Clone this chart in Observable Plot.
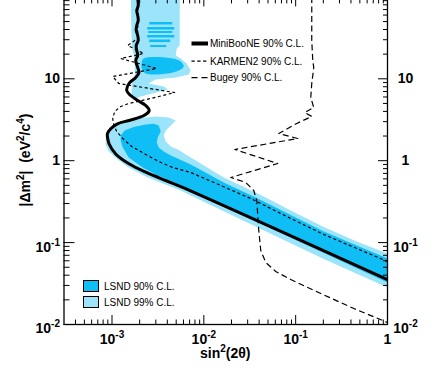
<!DOCTYPE html>
<html><head><meta charset="utf-8">
<script src="https://cdn.jsdelivr.net/npm/d3@7"></script>
<script src="https://cdn.jsdelivr.net/npm/@observablehq/plot@0.6"></script>
<style>
html,body{margin:0;padding:0;background:#fff;}
#chart{position:relative;width:435px;height:371px;overflow:hidden;}
svg{display:block;}
</style></head><body><div id="chart"></div>
<script>
// ---- data: [sin^2(2theta), dm^2] ----
const miniboone = [[1.89e-3,100],[1.929e-3,78.5],[1.858e-3,68.3],[1.905e-3,59.3],[1.929e-3,51.5],[1.858e-3,44.8],[1.835e-3,38.9],[1.905e-3,33.8],[1.929e-3,29.35],[1.835e-3,25.5],[1.858e-3,22.16],[1.905e-3,19.25],[1.812e-3,16.73],[1.905e-3,13.74],[1.967e-3,11.94],[1.812e-3,10.37],[1.531e-3,8.76],[1.446e-3,7.2],[1.599e-3,6.25],[1.905e-3,5.43],[2.328e-3,4.72],[2.54e-3,4.1],[2.23e-3,3.56],[1.531e-3,3.1],[1.145e-3,2.82],[9.68e-4,2.45],[8.91e-4,2.13],[8.98e-4,1.87],[9.28e-4,1.61],[1.097e-3,1.21],[1.531e-3,0.917],[2.328e-3,0.724],[3.846e-3,0.573],[5.6e-3,0.484],[1.0,0.0354]];
const karmen2 = [[1.905e-3,100],[1.905e-3,31.06],[1.483e-3,25.5],[2.214e-3,20.37],[1.244e-3,17.7],[3.068e-3,13.36],[1.018e-3,10.67],[1.183e-3,8.76],[4.819e-3,6.8],[2.64e-3,5.75],[1.905e-3,5.28],[1.52e-3,4.99],[1.244e-3,4.59],[1.07e-3,3.99],[1.018e-3,3.275],[1.043e-3,2.767],[1.125e-3,2.273],[1.308e-3,1.867],[1.639e-3,1.491],[2.328e-3,1.19],[3.226e-3,0.978],[4.583e-3,0.826],[7.2e-3,0.718],[3.243e-2,0.3455],[8.84e-2,0.197],[0.2023,0.1256],[1.0,0.0588]];
const bugey = [[0.1497,100],[0.1497,29.35],[0.1535,16.73],[0.1574,13.74],[0.1497,8.76],[0.146,5.91],[0.1574,4.46],[0.1256,3.88],[0.1497,3.47],[0.1028,2.85],[6.545e-2,2.148],[0.1054,1.867],[2.171e-2,1.37],[6.38e-2,0.924],[1.964e-2,0.624],[2.861e-2,0.542],[3.496e-2,0.433],[3.77e-2,0.327],[3.866e-2,0.214],[3.963e-2,0.1405],[4.168e-2,0.0801],[4.722e-2,0.0572],[6.07e-2,0.0444],[8.84e-2,0.0354],[0.1877,0.0239],[0.4294,0.01568],[1.0,0.01058]];
const lsnd99Top = [[1.599e-3,100],[5.46e-3,100],[5.46e-3,25.5],[5.07e-3,23.4],[4.94e-3,19.25],[5.6e-3,17.7],[6.51e-3,15.38],[7.2e-3,12.63],[6.85e-3,11.29],[4.94e-3,10.37],[2.99e-3,9.81],[2.51e-3,8.76],[3.657e-3,8.05],[4.04e-3,7.4],[2.054e-3,6.08],[1.723e-3,5.59],[1.639e-3,6.25],[1.639e-3,8.52],[1.768e-3,10.67],[1.768e-3,16.73],[1.639e-3,25.5]];
const lsnd99Main = [[1.043e-3,2.616],[1.244e-3,3.01],[1.812e-3,3.275],[2.992e-3,3.465],[4.146e-3,3.369],[4.94e-3,3.096],[4.358e-3,2.69],[3.846e-3,2.337],[3.657e-3,2.031],[3.846e-3,1.716],[4.358e-3,1.491],[5.194e-3,1.37],[7.2e-3,1.094],[1.647e-2,0.6236],[3.866e-2,0.3977],[8.84e-2,0.2465],[0.2023,0.155],[0.4747,0.1017],[1.0,0.0736],[1.0,0.02829],[0.2023,0.0631],[3.866e-2,0.1529],[7.2e-3,0.3759],[5.6e-3,0.4326],[3.566e-3,0.5268],[2.328e-3,0.6414],[1.52e-3,0.8258],[1.153e-3,1.034],[9.21e-4,1.295],[8.54e-4,1.577],[8.54e-4,1.92],[9.21e-4,2.337]];
const lsnd90Island = [[2.106e-3,15.81],[2.214e-3,17.7],[4.583e-3,17.7],[5.6e-3,16.26],[6.04e-3,14.13],[5.326e-3,12.63],[4.04e-3,11.61],[2.328e-3,11.61],[2.106e-3,13.36]];
const lsnd90Main = [[1.244e-3,2.031],[1.375e-3,2.337],[1.723e-3,2.579],[2.328e-3,2.767],[2.845e-3,2.822],[3.226e-3,2.69],[3.392e-3,2.273],[3.145e-3,1.92],[3.068e-3,1.669],[3.226e-3,1.449],[3.657e-3,1.295],[4.358e-3,1.157],[5.326e-3,1.049],[7.2e-3,0.8987],[1.647e-2,0.5418],[3.866e-2,0.3455],[8.84e-2,0.2173],[0.2023,0.1366],[1.0,0.06394],[1.0,0.03257],[0.2023,0.0746],[3.866e-2,0.1759],[7.2e-3,0.4326],[4.583e-3,0.557],[3.145e-3,0.6598],[2.159e-3,0.8258],[1.52e-3,1.094],[1.308e-3,1.449],[1.244e-3,1.765]];
const lsnd90Stripes = [
  {x1:2.574e-3,x2:4.583e-3,y1:45.4,y2:48.7},
  {x1:2.448e-3,x2:4.819e-3,y1:39.4,y2:42.3},
  {x1:2.51e-3,x2:4.583e-3,y1:35.7,y2:37.8},
  {x1:2.448e-3,x2:4.819e-3,y1:31.5,y2:33.8},
  {x1:2.574e-3,x2:4.358e-3,y1:27.7,y2:29.8},
  {x1:2.64e-3,x2:3.944e-3,y1:24.1,y2:25.5}];

const xMajor = [1e-3,1e-2,1e-1,1];
const xMinor = [4e-4,5e-4,6e-4,7e-4,8e-4,9e-4,2e-3,3e-3,4e-3,5e-3,6e-3,7e-3,8e-3,9e-3,2e-2,3e-2,4e-2,5e-2,6e-2,7e-2,8e-2,9e-2,0.2,0.3,0.4,0.5,0.6,0.7,0.8,0.9];
const xTickLabels = ["10^-3","10^-2","10^-1","1"];
const yMajor = [0.01,0.1,1,10,100];
const yMinor = [0.02,0.03,0.04,0.05,0.06,0.07,0.08,0.09,0.2,0.3,0.4,0.5,0.6,0.7,0.8,0.9,2,3,4,5,6,7,8,9,20,30,40,50,60,70,80,90];
const yLabelTicks = [0.01,0.1,1,10];
const yTickLabels = ["10^-2","10^-1","1","10"];
const legendTop = ["MiniBooNE 90% C.L.","KARMEN2 90% C.L.","Bugey 90% C.L."];
const legendBottom = ["LSND 90% C.L.","LSND 99% C.L."];

const C90 = "#0fbef5", C99 = "#9be4fa";
const xl = new Map(xMajor.map((v,i)=>[v,xTickLabels[i]]));
const yl = new Map(yLabelTicks.map((v,i)=>[v,yTickLabels[i]]));
const P = d => d[0], Q = d => d[1];
const blank = () => "";

const svg = Plot.plot({
  width: 435, height: 371,
  marginLeft: 63.5, marginRight: 48, marginTop: -3.6, marginBottom: 47,
  x: {type: "log", domain: [3e-4, 1]},
  y: {type: "log", domain: [0.01, 100]},
  style: {fontFamily: "'Liberation Sans', Arial, sans-serif", fontSize: "14px", fontWeight: "bold", background: "#fff", color: "#000"},
  marks: [
    Plot.line(lsnd99Top, {x: P, y: Q, fill: C99, stroke: "none", curve: "linear-closed", clip: true}),
    Plot.line(lsnd99Main, {x: P, y: Q, fill: C99, stroke: "none", curve: "linear-closed", clip: true}),
    Plot.line(lsnd90Island, {x: P, y: Q, fill: C90, stroke: "none", curve: "catmull-rom-closed", clip: true}),
    Plot.line(lsnd90Main, {x: P, y: Q, fill: C90, stroke: "none", curve: "linear-closed", clip: true}),
    Plot.rect(lsnd90Stripes, {x1: "x1", x2: "x2", y1: "y1", y2: "y2", fill: C90}),
    Plot.line(karmen2, {x: P, y: Q, stroke: "#000", strokeWidth: 1.2, strokeDasharray: "3,2.6", strokeLinecap: "butt", clip: true}),
    Plot.line(bugey, {x: P, y: Q, stroke: "#000", strokeWidth: 1.2, strokeDasharray: "6,3.5", strokeLinecap: "butt", clip: true}),
    Plot.line(miniboone, {x: P, y: Q, stroke: "#000", strokeWidth: 3, curve: "catmull-rom", clip: true}),
    Plot.frame({stroke: "#000", strokeWidth: 1.3}),
    Plot.axisY(yMajor, {anchor: "left", tickSize: 11, dx: 11, tickFormat: blank, label: null}),
    Plot.axisY(yMinor, {anchor: "left", tickSize: 6, dx: 6, tickFormat: blank, label: null}),
    Plot.axisY(yMajor, {anchor: "right", tickSize: 10, dx: -10, tickFormat: blank, label: null}),
    Plot.axisY(yMinor, {anchor: "right", tickSize: 5, dx: -5, tickFormat: blank, label: null}),
    Plot.axisX(xMajor, {anchor: "bottom", tickSize: 9, dy: -9, tickFormat: blank, label: null}),
    Plot.axisX(xMinor, {anchor: "bottom", tickSize: 4.5, dy: -4.5, tickFormat: blank, label: null}),
    Plot.axisX(xMajor, {anchor: "top", tickSize: 9, dy: 9, tickFormat: blank, label: null}),
    Plot.axisX(xMinor, {anchor: "top", tickSize: 6, dy: 6, tickFormat: blank, label: null}),
    Plot.axisY(yLabelTicks, {anchor: "left", tickSize: 0, tickPadding: 4, tickFormat: d => yl.get(d), label: null}),
    Plot.axisY(yLabelTicks, {anchor: "right", tickSize: 0, tickPadding: 18, textAnchor: "middle", tickFormat: d => yl.get(d), label: null}),
    Plot.axisX(xMajor, {anchor: "bottom", tickSize: 0, tickPadding: 10, tickFormat: d => xl.get(d), label: null})
  ]
});

const S = d3.select(svg);
S.selectAll("text").each(function() {
  const t = this.textContent;
  if (!t.includes("^")) return;
  const [b, e] = t.split("^");
  const g = this.closest("g");
  const isY = g && (g.getAttribute("aria-label") || "").includes("y-axis");
  const el = d3.select(this);
  el.text(null);
  el.append("tspan").text(b);
  el.append("tspan").attr("dy", -6).attr("font-size", "10px").text(e);
  if (isY) el.attr("transform", (el.attr("transform") || "") + " translate(0,4.5)");
});

// axis titles
const xt = S.append("text").attr("x", 225.3).attr("y", 358).attr("text-anchor", "middle")
  .attr("font-size", 14).attr("font-weight", "bold");
xt.append("tspan").text("sin");
xt.append("tspan").attr("dy", -6).attr("font-size", "10px").text("2");
xt.append("tspan").attr("dy", 6).text("(2θ)");

const yt = S.append("text").attr("transform", "translate(30,160) rotate(-90)").attr("text-anchor", "middle")
  .attr("font-size", 14).attr("font-weight", "bold");
yt.append("tspan").text("|Δm");
yt.append("tspan").attr("dy", -6).attr("font-size", "10px").text("2");
yt.append("tspan").attr("dy", 6).text("|\u00a0\u00a0(eV");
yt.append("tspan").attr("dy", -6).attr("font-size", "10px").text("2");
yt.append("tspan").attr("dy", 6).text("/c");
yt.append("tspan").attr("dy", -6).attr("font-size", "10px").text("4");
yt.append("tspan").attr("dy", 6).text(")");

// top legend
const lg = S.append("g").attr("font-size", 10).attr("font-weight", "normal").attr("text-anchor", "start");
const rows = [{y: 43.5, w: 4, dash: null}, {y: 61.2, w: 1.3, dash: "3.3,2.5"}, {y: 77.7, w: 1.3, dash: "6,4"}];
rows.forEach((r, i) => {
  const ln = lg.append("line").attr("x1", 191.5).attr("x2", 208).attr("y1", r.y).attr("y2", r.y)
    .attr("stroke", "#000").attr("stroke-width", r.w);
  if (r.dash) ln.attr("stroke-dasharray", r.dash);
  lg.append("text").attr("x", 210).attr("y", r.y).attr("dy", "0.35em").text(legendTop[i]);
});
// LSND legend
[C90, C99].forEach((c, i) => {
  const y0 = 280.5 + i * 16;
  lg.append("rect").attr("x", 83.5).attr("y", y0).attr("width", 15).attr("height", 11)
    .attr("fill", c).attr("stroke", "#000").attr("stroke-width", 1);
  lg.append("text").attr("x", 104).attr("y", y0 + 5.5).attr("dy", "0.35em").text(legendBottom[i]);
});

document.getElementById("chart").appendChild(svg);
</script></body></html>
